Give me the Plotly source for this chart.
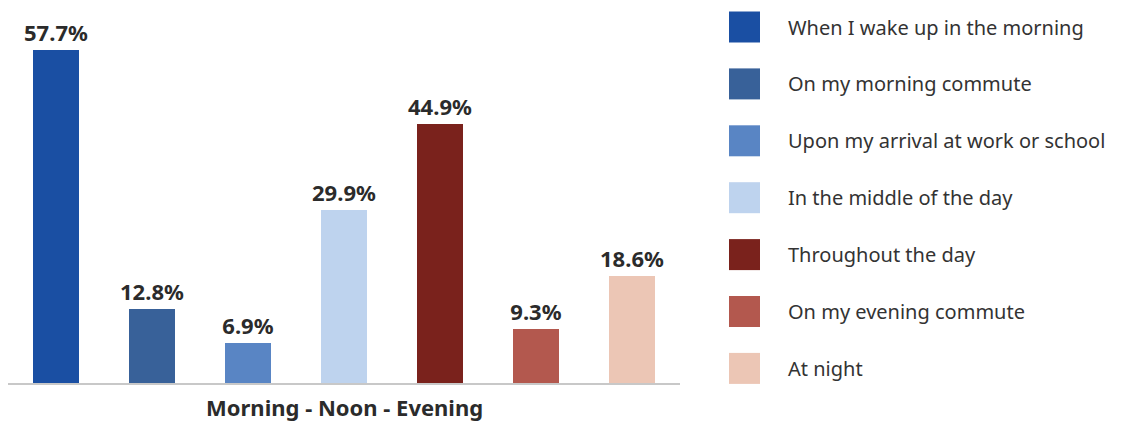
import plotly.graph_objects as go

categories = ["When I wake up in the morning", "On my morning commute",
              "Upon my arrival at work or school", "In the middle of the day",
              "Throughout the day", "On my evening commute", "At night"]
values = [57.7, 12.8, 6.9, 29.9, 44.9, 9.3, 18.6]
colors = ["#1a4fa3", "#386199", "#5985c4", "#bed3ee", "#7a221c", "#b3584e", "#ecc6b5"]
axis_title = "Morning - Noon - Evening"

# page body has an 8px default margin; compensate so the figure lands where the reference is
OFF = 8
W, H = 1124 - OFF, 425 - OFF
ml, mr, mt, mb = 8 - OFF, 444, 10 - OFF, 42
pw, ph = W - ml - mr, H - mt - mb
FONT = "Noto Sans"

fig = go.Figure()
for i, (c, v, col) in enumerate(zip(categories, values, colors)):
    fig.add_trace(go.Bar(
        x=[i], y=[v], name=c, marker=dict(color=col, line=dict(width=0)),
        width=0.48, text=[f"{v}%"], textposition="outside", constraintext="none",
        textfont=dict(family=FONT, size=22, color="#2b2b2b", weight="bold"),
        cliponaxis=False, showlegend=False))

# custom legend (large squares + labels), positions given in reference page pixels
def px_to_paper_x(px):
    return (px - OFF - ml) / pw

def px_to_paper_y(py):
    return (H - mb - (py - OFF)) / ph

for i, (c, col) in enumerate(zip(categories, colors)):
    yc = 27 + i * 56.9
    fig.add_shape(type="rect", xref="paper", yref="paper",
                  x0=px_to_paper_x(729), x1=px_to_paper_x(760),
                  y0=px_to_paper_y(yc + 15.5), y1=px_to_paper_y(yc - 15.5),
                  fillcolor=col, line=dict(width=0))
    fig.add_annotation(xref="paper", yref="paper", x=px_to_paper_x(786), y=px_to_paper_y(yc),
                       text=c, showarrow=False, xanchor="left", yanchor="middle",
                       font=dict(family=FONT, size=20, color="#333333"))

fig.add_annotation(xref="paper", yref="paper", x=0.5, y=0, yanchor="top", yshift=-7,
                   text=f"<b>{axis_title}</b>", showarrow=False,
                   font=dict(family=FONT, size=22, color="#2b2b2b"))

fig.update_layout(
    width=W, height=H, margin=dict(l=ml, r=mr, t=mt, b=mb),
    paper_bgcolor="white", plot_bgcolor="white",
    barmode="overlay", bargap=0,
    xaxis=dict(range=[-0.5, 6.5], showticklabels=False, showgrid=False, zeroline=False,
               showline=True, linecolor="#c8c8c8", linewidth=2, ticks=""),
    yaxis=dict(range=[0, ph / 5.77], visible=False, showgrid=False, zeroline=False),
)

fig.write_html("out.html")
